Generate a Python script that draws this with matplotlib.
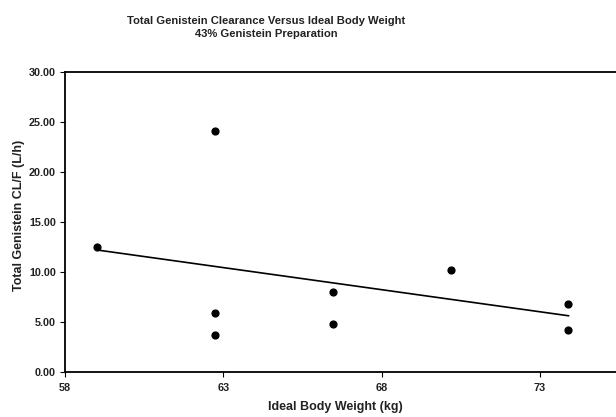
import numpy as np
import matplotlib
matplotlib.use('Agg')
import matplotlib.pyplot as plt

plt.rcParams['font.family'] = ['Liberation Sans', 'DejaVu Sans']

# ideal body weight (kg) and total genistein CL/F (L/h)
ibw = [59.0, 62.75, 62.75, 62.75, 66.45, 66.45, 70.2, 73.9, 73.9]
clf = [12.45, 24.1, 5.9, 3.65, 7.95, 4.75, 10.15, 6.8, 4.2]

x_ticks = [58, 63, 68, 73]
y_ticks = [0, 5, 10, 15, 20, 25, 30]

fig = plt.figure(figsize=(6.16, 4.17), dpi=100)
ax = fig.add_axes([0.1055, 0.109, 0.8945, 0.718])

ax.scatter(ibw, clf, s=24, c='black', zorder=3)

# least squares line over the data range
slope, icpt = np.polyfit(ibw, clf, 1)
xs = np.array([min(ibw), max(ibw)])
ax.plot(xs, slope * xs + icpt, color='black', lw=1.2)

ax.set_xlim(58, 75.4)
ax.set_ylim(0, 30)
ax.set_xticks(x_ticks)
ax.set_yticks(y_ticks)
ax.set_yticklabels(['%.2f' % v for v in y_ticks])
ax.tick_params(axis='both', labelsize=7.8, length=3.5, width=0.8, pad=3)
ax.tick_params(axis='x', pad=5)
for lab in ax.get_xticklabels() + ax.get_yticklabels():
    lab.set_fontweight('bold')
    lab.set_color('#222222')

ax.spines['right'].set_visible(False)
for s in ['left', 'bottom', 'top']:
    ax.spines[s].set_linewidth(1.3)

ax.set_xlabel('Ideal Body Weight (kg)', fontsize=9, fontweight='bold', color='#222222')
ax.set_ylabel('Total Genistein CL/F (L/h)', fontsize=9, fontweight='bold', color='#222222')
ax.xaxis.set_label_coords(0.49, -0.098)
ax.yaxis.set_label_coords(-0.073, 0.52)

fig.text(0.432, 0.962, 'Total Genistein Clearance Versus Ideal Body Weight\n43% Genistein Preparation',
         ha='center', va='top', fontsize=8.1, fontweight='bold', color='#222222', linespacing=1.45)

fig.savefig('out.png', dpi=100)
